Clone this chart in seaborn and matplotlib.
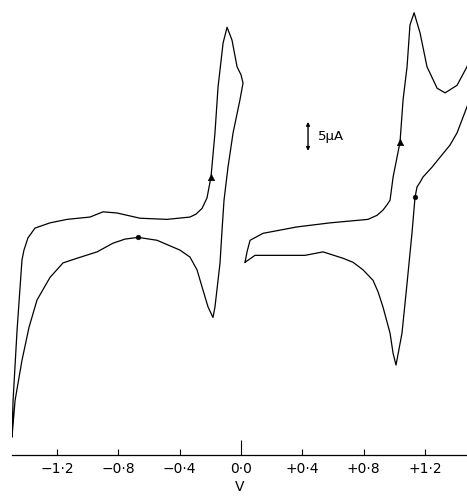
import numpy as np
import pandas as pd
import matplotlib
matplotlib.use("Agg")
import matplotlib.pyplot as plt
import seaborn as sns

# ---- data: cyclic voltammogram, potential (V) vs current (uA, arbitrary zero) ----

# left loop (reduction couple), traced as one closed loop
left_v = [-1.494, -1.487, -1.461, -1.429, -1.416, -1.390, -1.344, -1.246, -1.135,
          -0.985, -0.900, -0.809, -0.659, -0.483, -0.333, -0.294, -0.254, -0.222,
          -0.196, -0.170, -0.150, -0.117, -0.091, -0.059, -0.026, 0.000, 0.013,
          -0.007, -0.052, -0.085, -0.111, -0.124, -0.137, -0.170, -0.183,
          -0.215, -0.248, -0.287, -0.333, -0.398, -0.548, -0.672, -0.757, -0.835,
          -0.939, -1.070, -1.161, -1.246, -1.331, -1.383, -1.429, -1.474, -1.494]
left_i = [-32.2, -25.9, -13.8, -1.7, 0.0, 2.1, 3.8, 4.7, 5.3,
          5.7, 6.6, 6.4, 5.5, 5.3, 5.7, 6.2, 7.2, 9.0,
          12.6, 20.2, 28.1, 35.7, 38.4, 36.2, 31.6, 30.2, 28.8,
          25.9, 20.2, 14.3, 8.6, 3.4, -2.2, -9.8, -11.6,
          -9.8, -6.9, -3.4, -1.2, 0.0, 1.7, 2.2, 1.9, 1.2,
          -0.3, -1.4, -2.2, -4.7, -8.6, -13.3, -19.0, -25.9, -32.2]

# right loop (oxidation couple)
right_v = [0.026, 0.040, 0.059, 0.144, 0.365, 0.581, 0.828, 0.887, 0.926, 0.952,
           0.972, 0.992, 1.037, 1.057, 1.083, 1.102, 1.129, 1.168, 1.213, 1.279,
           1.331, 1.409, 1.474, 1.500, 1.500,
           1.474, 1.409, 1.363, 1.298, 1.246, 1.187, 1.168, 1.148, 1.135, 1.115,
           1.083, 1.050, 1.011,
           0.992, 0.972, 0.926, 0.894, 0.861, 0.796, 0.731, 0.665, 0.535, 0.417,
           0.091, 0.026]
right_i = [-2.1, -0.2, 1.7, 2.9, 4.0, 4.7, 5.3, 6.0, 6.9, 7.8,
           8.6, 12.6, 18.6, 25.9, 31.6, 38.8, 40.9, 37.4, 31.6, 27.9,
           27.1, 28.4, 31.6, 33.5, 26.5,
           24.7, 20.2, 18.1, 16.0, 14.3, 12.6, 11.7, 10.9, 9.1, 2.9,
           -5.7, -14.3, -19.8,
           -17.8, -14.3, -9.8, -7.2, -5.2, -3.4, -2.1, -1.4, -0.3, -0.9,
           -0.9, -2.1]

# scan direction markers
tri_v = [-0.196, 1.037]
tri_i = [12.6, 18.6]
dot_v = [-0.672, 1.135]
dot_i = [2.2, 9.1]

tick_pos = [-1.2, -0.8, -0.4, 0.0, 0.4, 0.8, 1.2]
tick_lab = ["\u22121\u00b72", "\u22120\u00b78", "\u22120\u00b74", "0\u00b70",
            "+0\u00b74", "+0\u00b78", "+1\u00b72"]

# ---- plot ----
sns.set_style("white")
plt.rcParams["font.family"] = ["DejaVu Sans"]

fig = plt.figure(figsize=(4.67, 5.0), dpi=100)
ax = fig.add_axes([12 / 467, 0.09, 1 - 12 / 467, 0.91])

left = pd.DataFrame({"v": left_v, "i": left_i})
right = pd.DataFrame({"v": right_v, "i": right_i})
sns.lineplot(data=left, x="v", y="i", sort=False, estimator=None,
             color="black", lw=0.9, ax=ax)
sns.lineplot(data=right, x="v", y="i", sort=False, estimator=None,
             color="black", lw=0.9, ax=ax)
sns.scatterplot(x=tri_v, y=tri_i, marker="^", s=22, color="black",
                edgecolor="black", ax=ax)
sns.scatterplot(x=dot_v, y=dot_i, marker="o", s=12, color="black",
                edgecolor="black", ax=ax)

# 5 uA scale bar
ax.annotate("", xy=(0.437, 22.1), xytext=(0.437, 17.1),
            arrowprops=dict(arrowstyle="<|-|>", color="black", lw=1.0,
                            mutation_scale=5, shrinkA=0, shrinkB=0))
ax.text(0.50, 19.6, "5\u00b5A", fontsize=9.5, ha="left", va="center",
        color="black")

ax.set_xlim(-1.494, 1.474)
ax.set_ylim(-35.3, 43.1)
ax.set_xticks(tick_pos)
ax.set_xticklabels(tick_lab, fontsize=10, color="black")
ax.set_yticks([])
ax.set_xlabel("V", fontsize=10, labelpad=3, color="black")
ax.set_ylabel("")
ax.tick_params(axis="x", direction="in", length=4, width=0.8, pad=5,
               bottom=True, color="black")
ax.xaxis.get_major_ticks()[3].tick1line.set_markersize(11)

for s in ["top", "right", "left"]:
    ax.spines[s].set_visible(False)
ax.spines["bottom"].set_linewidth(0.9)
ax.spines["bottom"].set_color("black")

fig.savefig("out.png", dpi=100)
